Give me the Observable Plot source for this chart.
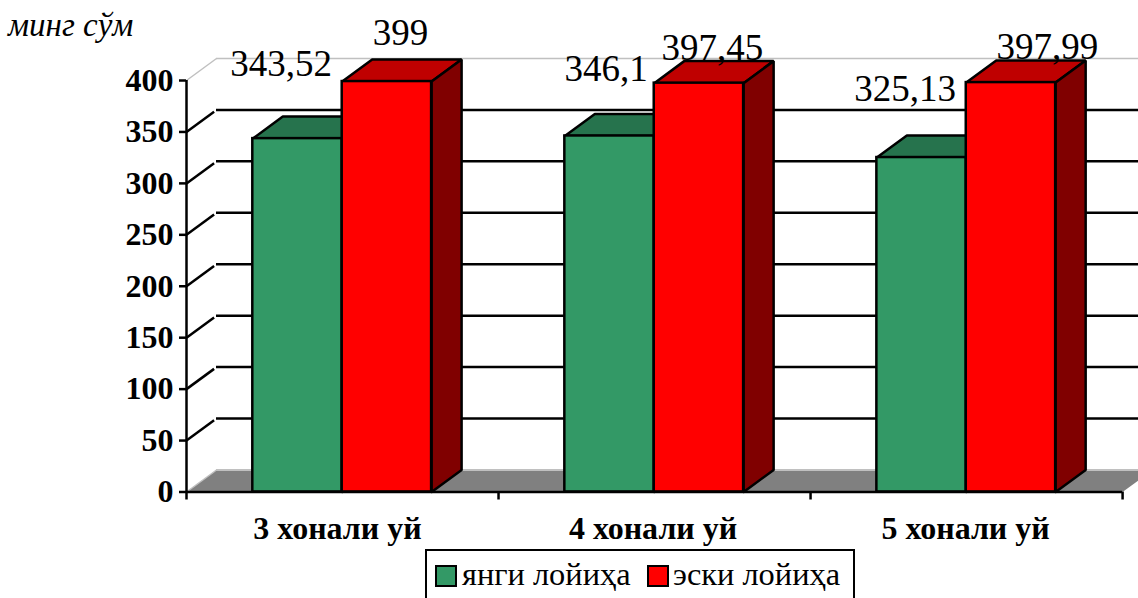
<!DOCTYPE html>
<html><head><meta charset="utf-8">
<style>
html,body{margin:0;padding:0;background:#fff;width:1138px;height:598px;overflow:hidden;position:relative;font-family:"Liberation Serif",serif;color:#000}
svg{display:block}
#unit{position:absolute;left:8px;top:7px;font-size:33px;font-style:italic;line-height:36px}
#legend{position:absolute;left:425px;top:549px;width:430px;height:70px;box-sizing:border-box;border:2.5px solid #000;background:#fff;font-size:32.4px;line-height:50px;white-space:nowrap}
#legend i{position:absolute;top:14px;width:18px;height:18px;border:2.5px solid #000}
#legend span{position:absolute;top:-2px}
</style>
<script src="https://cdn.jsdelivr.net/npm/d3@7"></script>
<script src="https://cdn.jsdelivr.net/npm/@observablehq/plot@0.6"></script>
</head><body>
<div id="chart"></div>
<div id="unit">минг сўм</div>
<div id="legend"></div>
<script>
const categories = ["3 хонали уй", "4 хонали уй", "5 хонали уй"];
const seriesNames = ["янги лойиҳа", "эски лойиҳа"];
const newProject = [343.52, 346.1, 325.13];
const oldProject = [399, 397.45, 397.99];
const yTicks = [0, 50, 100, 150, 200, 250, 300, 350, 400];

const green = {front: "#339966", top: "#26734d", side: "#1a4d33"};
const red = {front: "#ff0000", top: "#bf0000", side: "#800000"};

// oblique projection, in data units
const depthX = 30 / 312, depthY = 21.4, barW = 0.2865, gapL = 0.2125, axisEnd = 3.051;

const fmt = v => String(v).replace(".", ",");
const fronts = [], faces = [];
function poly(id, fill, pts) {
  pts.concat([pts[0]]).forEach(([x, y]) => faces.push({id, fill, x, y}));
}
function addBars(values, offset, c, name) {
  values.forEach((v, i) => {
    const x1 = i + gapL + offset * barW, x2 = x1 + barW;
    fronts.push({x1, x2, y: v, fill: c.front, name});
    poly(name + i + "t", c.top, [[x1, v], [x1 + depthX, v + depthY], [x2 + depthX, v + depthY], [x2, v]]);
    poly(name + i + "s", c.side, [[x2, 0], [x2 + depthX, depthY], [x2 + depthX, v + depthY], [x2, v]]);
  });
}
addBars(newProject, 0, green, "n");
addBars(oldProject, 1, red, "o");

const floor = [];
[[0, 0], [depthX, depthY], [3 + depthX, depthY], [3, 0], [0, 0]].forEach(([x, y]) => floor.push({x, y}));

const gridTicks = yTicks.slice(1, -1);
const valueLabel = (v, i, offset, dx, dy) => Plot.text([v], {
  x: () => i + gapL + (offset + 0.5) * barW, y: d => d, text: fmt, dx, dy,
  fontSize: 37, fill: "#000", textAnchor: "middle", lineAnchor: "bottom"
});
const categoryLabel = (i, dx) => Plot.text([categories[i]], {
  x: () => i + 0.5, y: () => 0, text: d => d, dx, dy: 24, lineAnchor: "top",
  fontSize: 32, fontWeight: "bold", fill: "#000"
});

const plot = Plot.plot({
  width: 1138, height: 548,
  marginLeft: 186, marginRight: 0, marginTop: 58, marginBottom: 56.5,
  style: {fontFamily: "'Liberation Serif',serif", color: "#000", background: "transparent", overflow: "hidden"},
  x: {domain: [0, axisEnd], axis: null},
  y: {domain: [0, 400 + depthY], axis: null},
  color: {type: "identity"},
  marks: [
    Plot.line(floor, {x: "x", y: "y", fill: "#808080", stroke: "none", clip: true}),
    Plot.ruleY([0], {x1: depthX, x2: axisEnd, y: () => depthY, stroke: "#c0c0c0", strokeWidth: 2}),
    Plot.link([0], {x1: () => 0, y1: () => 0, x2: () => depthX, y2: () => depthY, stroke: "#c0c0c0", strokeWidth: 1.5}),
    Plot.link([400], {x1: () => 0, y1: d => d, x2: () => depthX, y2: d => d + depthY, stroke: "#c0c0c0", strokeWidth: 1.5}),
    Plot.ruleY([400], {x1: depthX, x2: axisEnd, y: d => d + depthY, stroke: "#c0c0c0", strokeWidth: 1.5}),
    Plot.ruleY(gridTicks, {x1: depthX, x2: axisEnd, y: d => d + depthY, stroke: "#000", strokeWidth: 2.5}),
    Plot.link(gridTicks, {x1: () => 0, y1: d => d, x2: () => depthX * 0.92, y2: d => d + depthY * 0.92, stroke: "#000", strokeWidth: 2.5}),
    Plot.line(faces, {x: "x", y: "y", z: "id", fill: "fill", stroke: "#000", strokeWidth: 2.5, strokeLinejoin: "miter"}),
    Plot.rect(fronts, {x1: "x1", x2: "x2", y1: () => 0, y2: "y", fill: "fill", stroke: "#000", strokeWidth: 2.5}),
    Plot.ruleY([0], {x1: 0, x2: 3, stroke: "#000", strokeWidth: 2.5}),
    Plot.ruleX([0], {y1: 0, y2: 400, stroke: "#000", strokeWidth: 2.5}),
    Plot.axisY({ticks: yTicks, tickSize: 7, tickPadding: 6, label: null, fontSize: 32, fontWeight: "bold", fill: "#000", stroke: "#000", strokeWidth: 2.5}),
    Plot.axisX({ticks: [0, 1, 2, 3], tickSize: 8, tickFormat: () => "", label: null, stroke: "#000", strokeWidth: 2.5}),
    categoryLabel(0, -5), categoryLabel(1, -1.5), categoryLabel(2, -1),
    valueLabel(newProject[0], 0, 0, -16.5, -63),
    valueLabel(oldProject[0], 0, 1, 13.5, -37),
    valueLabel(newProject[1], 1, 0, -3.5, -55),
    valueLabel(oldProject[1], 1, 1, 13.5, -23),
    valueLabel(newProject[2], 2, 0, -16.5, -57),
    valueLabel(oldProject[2], 2, 1, 36.5, -24)
  ]
});
document.getElementById("chart").append(plot);

const legend = document.getElementById("legend");
[[green.front, 8, 35], [red.front, 220, 246]].forEach(([col, sx, tx], i) => {
  const sw = document.createElement("i");
  sw.style.cssText = `left:${sx}px;background:${col}`;
  const t = document.createElement("span");
  t.style.left = tx + "px";
  t.textContent = seriesNames[i];
  legend.append(sw, t);
});
</script>
</body></html>
